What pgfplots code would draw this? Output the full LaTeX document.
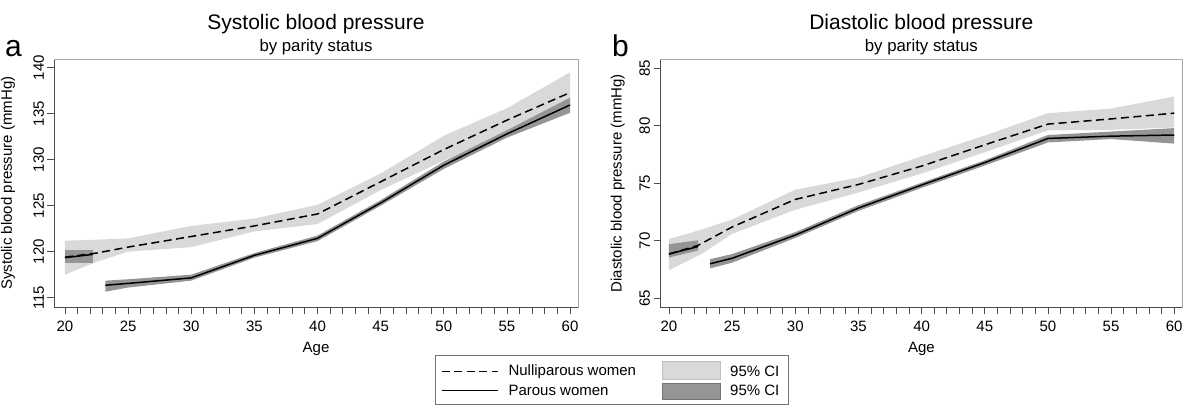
\documentclass[border=0pt]{standalone}
\usepackage{pgfplots}
\pgfplotsset{compat=1.18}
\usepackage{fontspec}
\setmainfont{Liberation Sans}
\definecolor{lightband}{HTML}{D9D9D9}
\definecolor{darkband}{HTML}{959595}
\definecolor{framegray}{HTML}{A6A6A6}
\newcommand{\fs}[1]{\fontsize{#1}{#1}\selectfont}
\tikzset{
  nullline/.style={black, line width=1.5pt, dash pattern=on 8pt off 4.5pt},
  parline/.style={black, line width=1.5pt},
}
\pgfplotsset{
  bpstyle/.style={
    scale only axis,
    clip=false,
    axis x line*=bottom,
    axis y line*=left,
    axis line style={draw=black!70, line width=0.8pt, -},
    tick align=outside,
    major tick length=6.5pt,
    minor tick length=6.5pt,
    every tick/.style={black!70, line width=0.8pt},
    xtick={20,25,...,60},
    minor x tick num=4,
    /pgf/number format/assume math mode=true,
    tick label style={font=\fs{15}},
    xticklabel style={yshift=-3.5pt},
    yticklabel style={rotate=90, anchor=south},
    every axis x label/.style={at={(axis description cs:0.5,0)}, anchor=base, yshift=-45.2pt, font=\fs{15}},
    xlabel={Age},
  },
}
\begin{document}
\begin{tikzpicture}
\useasboundingbox (0,0) rectangle (1192pt,-406pt);
% ---------- Panel a ----------
\begin{axis}[bpstyle,
  at={(54pt,-307.5pt)}, anchor=south west,
  width=524pt, height=248.5pt,
  xmin=19.13, xmax=60.63, ymin=113.93, ymax=140.95,
  ytick={115,120,...,140},
  every axis y label/.style={at={(axis description cs:-0.088,0.5)}, rotate=90, anchor=center, font=\fs{15}},
  ylabel={Systolic blood pressure (mmHg)},
]
\addplot[fill=lightband, draw=none] coordinates {
 (20,121.2) (22.5,121.3) (25,121.45) (30,122.8) (35,123.6) (40,125.1) (45,128.5) (50,132.6) (55,135.6) (60,139.5)
 (60,135.2) (55,133.0) (50,129.9) (45,126.7) (40,123.0) (35,122.2) (30,120.5) (25,120.0) (22.5,118.9) (20,117.5)} --cycle;
\addplot[fill=darkband, draw=none] coordinates {
 (20,118.8) (22.2,118.8) (22.2,120.2) (20,120.2)} --cycle;
\addplot[fill=darkband, draw=none] coordinates {
 (23.2,116.85) (25,117.0) (30,117.5) (35,119.85) (40,121.75) (45,125.6) (50,129.8) (55,133.2) (60,136.75)
 (60,135.1) (55,132.4) (50,129.0) (45,125.0) (40,121.15) (35,119.35) (30,116.85) (25,116.1) (23.2,115.65)} --cycle;
\addplot[parline] coordinates {(20,119.35) (22.2,119.7)};
\addplot[nullline] coordinates {
 (20,119.4) (22.5,119.85) (25,120.5) (30,121.65) (35,122.8) (40,124.1) (45,127.6) (50,131.1) (55,134.3) (60,137.3)};
\addplot[parline] coordinates {
 (23.2,116.35) (25,116.55) (30,117.15) (35,119.6) (40,121.45) (45,125.3) (50,129.4) (55,132.8) (60,135.95)};
\draw[framegray, line width=0.8pt] (rel axis cs:0,1) -- (rel axis cs:1,1) -- (rel axis cs:1,0);
\node[anchor=base, font=\fs{21}] at (axis description cs:0.5,1) [yshift=29.7pt] {Systolic blood pressure};
\node[anchor=base, font=\fs{16.8}] at (axis description cs:0.5,1) [yshift=7.3pt] {by parity status};
\node[anchor=base west, font=\fs{30}, inner sep=0pt] at (axis description cs:-0.0935,1) [yshift=2.3pt] {a};
\end{axis}
% ---------- Panel b ----------
\begin{axis}[bpstyle,
  at={(660pt,-307.5pt)}, anchor=south west,
  width=522.7pt, height=248.5pt,
  xmin=19.29, xmax=60.67, ymin=64.2, ymax=85.81,
  ytick={65,70,...,85},
  every axis y label/.style={at={(axis description cs:-0.081,0.5)}, rotate=90, anchor=center, font=\fs{15}},
  ylabel={Diastolic blood pressure (mmHg)},
]
\addplot[fill=lightband, draw=none] coordinates {
 (20,70.15) (22.5,70.95) (25,71.85) (30,74.45) (35,75.5) (40,77.35) (45,79.15) (50,81.1) (55,81.5) (60,82.55)
 (60,79.85) (55,79.65) (50,79.6) (45,77.7) (40,75.85) (35,74.2) (30,72.7) (25,70.6) (22.5,68.8) (20,67.45)} --cycle;
\addplot[fill=darkband, draw=none] coordinates {
 (20,68.55) (22.3,69.15) (22.3,70.05) (20,69.7)} --cycle;
\addplot[fill=darkband, draw=none] coordinates {
 (23.25,68.4) (25,68.85) (30,70.75) (35,73.1) (40,75.05) (45,77.0) (50,79.2) (55,79.5) (60,79.8)
 (60,78.45) (55,78.85) (50,78.55) (45,76.55) (40,74.6) (35,72.6) (30,70.25) (25,68.1) (23.25,67.6)} --cycle;
\addplot[parline] coordinates {(20,68.85) (22.3,69.5)};
\addplot[nullline] coordinates {
 (20,68.85) (22.3,69.6) (25,71.2) (30,73.6) (35,74.9) (40,76.5) (45,78.35) (50,80.15) (55,80.6) (60,81.1)};
\addplot[parline] coordinates {
 (23.25,68.0) (25,68.48) (30,70.5) (35,72.85) (40,74.85) (45,76.8) (50,78.9) (55,79.1) (60,79.2)};
\draw[framegray, line width=0.8pt] (rel axis cs:0,1) -- (rel axis cs:1,1) -- (rel axis cs:1,0);
\node[anchor=base, font=\fs{21}] at (axis description cs:0.5,1) [yshift=29.7pt] {Diastolic blood pressure};
\node[anchor=base, font=\fs{16.8}] at (axis description cs:0.5,1) [yshift=7.3pt] {by parity status};
\node[anchor=base west, font=\fs{30}, inner sep=0pt] at (axis description cs:-0.092,1) [yshift=2.3pt] {b};
\end{axis}
% ---------- Legend ----------
\draw[black!55, line width=0.8pt] (435pt,-355pt) rectangle (788pt,-404.5pt);
\draw[nullline] (441.7pt,-371.7pt) -- (498.3pt,-371.7pt);
\draw[parline, line width=1.2pt] (441.7pt,-390.7pt) -- (498.3pt,-390.7pt);
\node[anchor=west, inner sep=0pt, font=\fs{15}] at (508.3pt,-371.7pt) {Nulliparous women};
\node[anchor=west, inner sep=0pt, font=\fs{15}] at (508.3pt,-390.7pt) {Parous women};
\filldraw[fill=lightband, draw=black!25, line width=0.8pt] (662.7pt,-361.7pt) rectangle (720.7pt,-379.3pt);
\filldraw[fill=darkband, draw=black!55, line width=0.8pt] (662.7pt,-383.3pt) rectangle (720.7pt,-399.3pt);
\node[anchor=west, inner sep=0pt, font=\fs{15}] at (730pt,-371.7pt) {95\% CI};
\node[anchor=west, inner sep=0pt, font=\fs{15}] at (730pt,-390.7pt) {95\% CI};
\end{tikzpicture}
\end{document}
